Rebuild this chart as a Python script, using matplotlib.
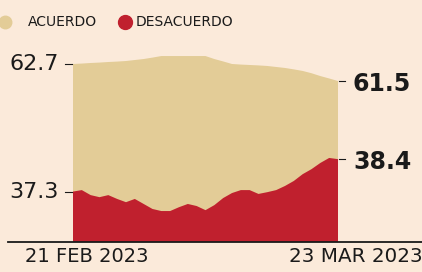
import matplotlib
matplotlib.use("Agg")
import matplotlib.pyplot as plt
from matplotlib.lines import Line2D

# Data (daily, 21 Feb 2023 -> 23 Mar 2023)
days = list(range(31))
acuerdo = [62.70, 62.73, 62.77, 62.80, 62.84, 62.87, 62.91, 62.98, 63.05, 63.15,
           63.26, 63.26, 63.26, 63.26, 63.26, 63.26, 63.05, 62.88, 62.70, 62.66,
           62.63, 62.60, 62.56, 62.49, 62.42, 62.32, 62.21, 62.05, 61.85, 61.68, 61.50]
desacuerdo = [37.30, 37.35, 37.18, 37.11, 37.18, 37.05, 36.94, 37.05, 36.88, 36.71,
              36.64, 36.64, 36.77, 36.88, 36.81, 36.67, 36.84, 37.08, 37.25, 37.35,
              37.35, 37.22, 37.28, 37.35, 37.49, 37.66, 37.89, 38.06, 38.27, 38.44, 38.40]
date_labels = ["21 FEB 2023", "23 MAR 2023"]
legend_labels = ["ACUERDO", "DESACUERDO"]

BG = "#FBEADA"
TAN = "#E3CC97"
RED = "#C0202E"
INK = "#1a1a1a"

W, H = 422, 272
fig = plt.figure(figsize=(W / 100, H / 100), dpi=100)
fig.patch.set_facecolor(BG)

left, right, bottom_px, top_px = 73, 338, 242, 40
rect = [left / W, 1 - bottom_px / H, (right - left) / W, (bottom_px - top_px) / H]
ax1 = fig.add_axes(rect)
ax1.set_facecolor("none")
ax2 = ax1.twinx()

ax1.fill_between(days, 0, acuerdo, color=TAN, lw=0, zorder=1)
ax2.fill_between(days, 0, desacuerdo, color=RED, lw=0, zorder=2)
ax1.set_ylim(50.16, 64.39)
ax2.set_ylim(35.59, 42.44)
ax1.set_xlim(days[0], days[-1])
for a in (ax1, ax2):
    a.axis("off")

# Baseline
fig.add_artist(Line2D([8 / W, 1.0], [1 - bottom_px / H] * 2, color=INK, lw=1.3))

# Tick dashes
ax1.plot([-0.9, -0.15], [acuerdo[0]] * 2, color=INK, lw=0.8, clip_on=False)
ax2.plot([-0.9, -0.15], [desacuerdo[0]] * 2, color=INK, lw=0.8, clip_on=False)
ax1.plot([30.15, 30.8], [acuerdo[-1]] * 2, color=INK, lw=0.8, clip_on=False)
ax2.plot([30.15, 30.8], [desacuerdo[-1]] * 2, color=INK, lw=0.8, clip_on=False)

FAM = ["DejaVu Sans"]
light = dict(family=FAM, weight="normal", color=INK)
bold = dict(family=FAM, weight="bold", color=INK)

ax1.annotate(f"{acuerdo[0]:.1f}", xy=(0, acuerdo[0]), xytext=(-14, 0),
             textcoords="offset pixels", ha="right", va="center",
             fontsize=16, **light)
ax2.annotate(f"{desacuerdo[0]:.1f}", xy=(0, desacuerdo[0]), xytext=(-14, 0),
             textcoords="offset pixels", ha="right", va="center",
             fontsize=16, **light)
ax1.annotate(f"{acuerdo[-1]:.1f}", xy=(30, acuerdo[-1]), xytext=(15, -3),
             textcoords="offset pixels", ha="left", va="center",
             fontsize=17, **bold)
ax2.annotate(f"{desacuerdo[-1]:.1f}", xy=(30, desacuerdo[-1]), xytext=(15, -3),
             textcoords="offset pixels", ha="left", va="center",
             fontsize=17, **bold)

# Date labels
fig.text(25 / W, 1 - 257 / H, date_labels[0], ha="left", va="center",
         fontsize=14, **light)
fig.text(289 / W, 1 - 257 / H, date_labels[1], ha="left", va="center",
         fontsize=14.3, **light)

# Legend
fig.add_artist(Line2D([5 / W], [1 - 22 / H], marker="o", ms=9, color=TAN, lw=0))
fig.text(28 / W, 1 - 22 / H, legend_labels[0], ha="left", va="center",
         fontsize=10, **light)
fig.add_artist(Line2D([125 / W], [1 - 22 / H], marker="o", ms=10, color=RED, lw=0))
fig.text(136 / W, 1 - 22 / H, legend_labels[1], ha="left", va="center",
         fontsize=10, **light)

fig.savefig("out.png", dpi=100, facecolor=BG)
